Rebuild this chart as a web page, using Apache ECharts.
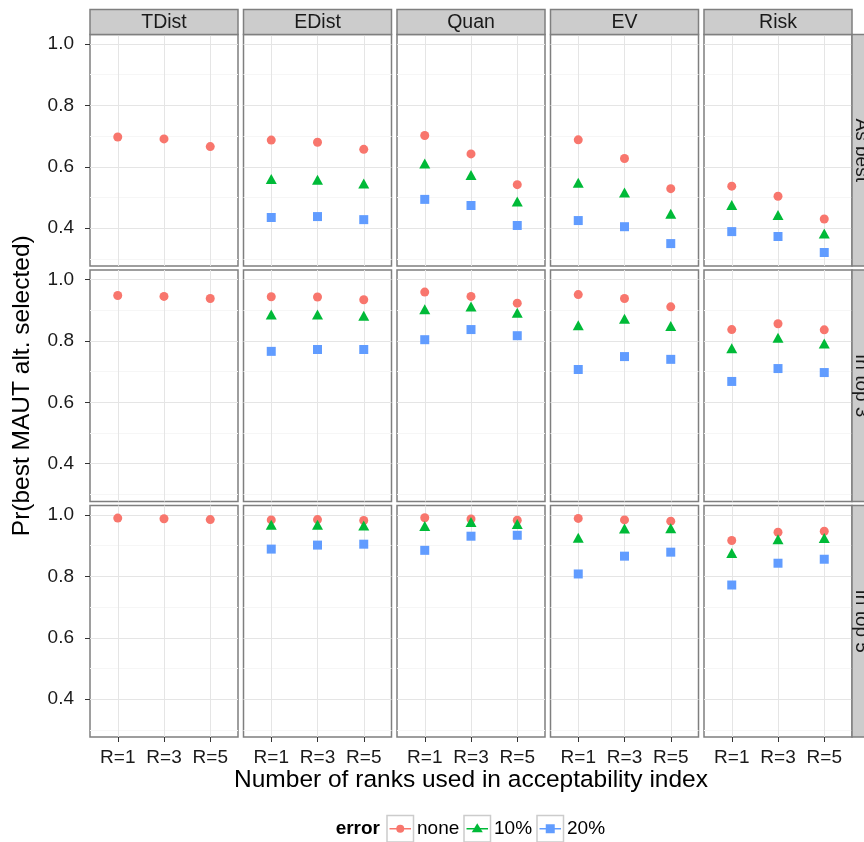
<!DOCTYPE html>
<html>
<head>
<meta charset="utf-8">
<script src="https://cdn.jsdelivr.net/npm/echarts@6/dist/echarts.min.js"></script>
<style>html,body{margin:0;padding:0;background:#fff;}#chart{width:864px;height:842px;}</style>
</head>
<body>
<div id="chart"></div>
<script>
// ---- data ----
const categories = ['R=1', 'R=3', 'R=5'];
const methods = ['TDist', 'EDist', 'Quan', 'EV', 'Risk'];
const criteria = ['As best', 'In top 3', 'In top 5'];
const errorLevels = ['none', '10%', '20%'];
const yTicks = [0.4, 0.6, 0.8, 1.0];
const yMinorTicks = [0.3, 0.5, 0.7, 0.9];

// values per method (TDist, EDist, Quan, EV, Risk), each over categories
const asBestNone = [[0.697, 0.691, 0.666], [0.687, 0.680, 0.657], [0.702, 0.642, 0.542], [0.688, 0.627, 0.529], [0.537, 0.504, 0.430]];
const asBest10   = [null, [0.560, 0.558, 0.546], [0.611, 0.573, 0.487], [0.548, 0.516, 0.447], [0.476, 0.443, 0.383]];
const asBest20   = [null, [0.435, 0.438, 0.428], [0.494, 0.474, 0.409], [0.425, 0.405, 0.350], [0.389, 0.373, 0.321]];

const top3None = [[0.948, 0.945, 0.938], [0.944, 0.943, 0.934], [0.959, 0.945, 0.923], [0.951, 0.938, 0.911], [0.837, 0.856, 0.836]];
const top3_10  = [null, [0.886, 0.886, 0.882], [0.903, 0.912, 0.892], [0.851, 0.872, 0.849], [0.776, 0.810, 0.792]];
const top3_20  = [null, [0.766, 0.772, 0.772], [0.804, 0.837, 0.817], [0.707, 0.749, 0.740], [0.668, 0.710, 0.697]];

const top5None = [[0.990, 0.988, 0.985], [0.984, 0.985, 0.982], [0.991, 0.987, 0.983], [0.989, 0.984, 0.980], [0.917, 0.944, 0.947]];
const top5_10  = [null, [0.968, 0.968, 0.966], [0.964, 0.977, 0.971], [0.926, 0.956, 0.957], [0.876, 0.921, 0.925]];
const top5_20  = [null, [0.889, 0.902, 0.905], [0.885, 0.931, 0.934], [0.808, 0.866, 0.879], [0.772, 0.843, 0.856]];

const valuesByCriterion = [
  [asBestNone, asBest10, asBest20],
  [top3None, top3_10, top3_20],
  [top5None, top5_10, top5_20]
];

// ---- styling ----
const FONT = '"Liberation Sans", Arial, Helvetica, sans-serif';
const colors = ['#F8766D', '#00BA38', '#619CFF'];
const symbols = ['circle', 'triangle', 'rect'];
const symbolSizes = [9, [11, 10], 9];

const PX0 = 90, PDX = 153.5, PW = 148;
const PY0 = 34.5, PDY = 235.5, PH = 231.5;
const YMIN = 0.277, YMAX = 1.031;

const chart = echarts.init(document.getElementById('chart'), null, {renderer: 'canvas'});
const option = {
  animation: false,
  backgroundColor: '#ffffff',
  grid: [], xAxis: [], yAxis: [], series: [], graphic: []
};

for (let r = 0; r < criteria.length; r++) {
  for (let c = 0; c < methods.length; c++) {
    const gi = r * methods.length + c;
    const L = PX0 + c * PDX, T = PY0 + r * PDY;
    option.grid.push({left: L, top: T, width: PW, height: PH, show: true,
      borderColor: '#7f7f7f', borderWidth: 1.5, backgroundColor: '#ffffff'});
    option.xAxis.push({
      type: 'value', gridIndex: gi, min: 0.4, max: 3.6,
      axisLine: {show: false},
      axisTick: {show: r === criteria.length - 1, customValues: [1, 2, 3], length: 5, lineStyle: {color: '#333333', width: 1}},
      axisLabel: {show: r === criteria.length - 1, customValues: [1, 2, 3],
        formatter: v => categories[Math.round(v) - 1], fontSize: 19, color: '#1a1a1a', fontFamily: FONT, margin: 11},
      splitLine: {show: true, lineStyle: {color: '#e5e5e5', width: 1}}
    });
    option.yAxis.push({
      type: 'value', gridIndex: gi, min: YMIN, max: YMAX, position: 'left',
      axisLine: {show: false},
      axisTick: {show: c === 0, customValues: yTicks, length: 5, lineStyle: {color: '#333333', width: 1}},
      axisLabel: {show: c === 0, customValues: yTicks, formatter: v => v.toFixed(1),
        fontSize: 19, color: '#1a1a1a', fontFamily: FONT, margin: 16},
      splitLine: {show: true, lineStyle: {color: '#e5e5e5', width: 1}}
    });
    option.yAxis.push({
      type: 'value', gridIndex: gi, min: YMIN, max: YMAX, position: 'left',
      axisLine: {show: false},
      axisTick: {show: false, customValues: yMinorTicks},
      axisLabel: {show: false, customValues: yMinorTicks},
      splitLine: {show: true, lineStyle: {color: '#f6f6f6', width: 1}}
    });
    for (let e = 0; e < errorLevels.length; e++) {
      const vals = valuesByCriterion[r][e][c];
      if (!vals) continue;
      option.series.push({
        type: 'scatter', name: errorLevels[e], xAxisIndex: gi, yAxisIndex: gi * 2,
        data: vals.map((v, i) => [i + 1, v]),
        symbol: symbols[e], symbolSize: symbolSizes[e],
        itemStyle: {color: colors[e], opacity: 1}, silent: true, z: 3 + e
      });
    }
    // right strips
    if (c === methods.length - 1) {
      option.graphic.push({type: 'rect', shape: {x: L + PW, y: T, width: 26, height: PH},
        style: {fill: '#cccccc', stroke: '#7f7f7f', lineWidth: 1.5}, z: 10});
      option.graphic.push({type: 'text', x: L + PW + 9.5, y: T + PH / 2, rotation: -Math.PI / 2,
        style: {text: criteria[r], fill: '#1a1a1a', font: '19px ' + FONT, align: 'center', verticalAlign: 'middle'}, z: 11});
    }
  }
}
// top strips
for (let c = 0; c < methods.length; c++) {
  const L = PX0 + c * PDX;
  option.graphic.push({type: 'rect', shape: {x: L, y: 9.5, width: PW, height: 25},
    style: {fill: '#cccccc', stroke: '#7f7f7f', lineWidth: 1.5}, z: 10});
  option.graphic.push({type: 'text', x: L + PW / 2, y: 22.5,
    style: {text: methods[c], fill: '#1a1a1a', font: '19.5px ' + FONT, align: 'center', verticalAlign: 'middle'}, z: 11});
}
// axis titles
option.graphic.push({type: 'text', x: PX0 + (4 * PDX + PW) / 2, y: 780,
  style: {text: 'Number of ranks used in acceptability index', fill: '#000', font: '24.5px ' + FONT, align: 'center', verticalAlign: 'middle'}});
option.graphic.push({type: 'text', x: 22, y: PY0 + (2 * PDY + PH) / 2, rotation: Math.PI / 2,
  style: {text: 'Pr(best MAUT alt. selected)', fill: '#000', font: '24.5px ' + FONT, align: 'center', verticalAlign: 'middle'}});

// legend
option.graphic.push({type: 'text', x: 380, y: 829,
  style: {text: 'error', fill: '#000', font: 'bold 19px ' + FONT, align: 'right', verticalAlign: 'middle'}});
const keyX = [387, 464, 537];
for (let e = 0; e < errorLevels.length; e++) {
  const kx = keyX[e], ky = 815.5, ks = 26.5;
  option.graphic.push({type: 'rect', shape: {x: kx, y: ky, width: ks, height: ks},
    style: {fill: '#ffffff', stroke: '#cccccc', lineWidth: 1.5}});
  option.graphic.push({type: 'line', shape: {x1: kx + 2.5, y1: ky + ks / 2, x2: kx + ks - 2.5, y2: ky + ks / 2},
    style: {stroke: colors[e], lineWidth: 1.5}});
  if (e === 0) {
    option.graphic.push({type: 'circle', shape: {cx: kx + ks / 2, cy: ky + ks / 2, r: 4}, style: {fill: colors[e]}});
  } else if (e === 1) {
    option.graphic.push({type: 'polygon', shape: {points: [[kx + ks / 2, ky + ks / 2 - 5.5], [kx + ks / 2 + 5.5, ky + ks / 2 + 3.5], [kx + ks / 2 - 5.5, ky + ks / 2 + 3.5]]}, style: {fill: colors[e]}});
  } else {
    option.graphic.push({type: 'rect', shape: {x: kx + ks / 2 - 4.5, y: ky + ks / 2 - 4.5, width: 9, height: 9}, style: {fill: colors[e]}});
  }
  option.graphic.push({type: 'text', x: kx + ks + 3.5, y: 829,
    style: {text: errorLevels[e], fill: '#000', font: '19px ' + FONT, align: 'left', verticalAlign: 'middle'}});
}

chart.setOption(option);
</script>
</body>
</html>
